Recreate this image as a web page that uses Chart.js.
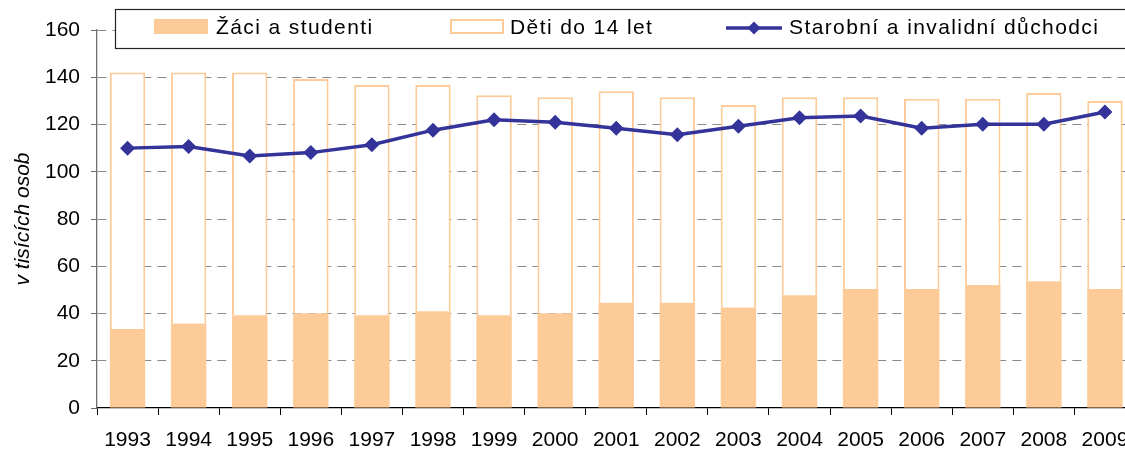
<!DOCTYPE html>
<html lang="cs">
<head>
<meta charset="utf-8">
<script src="https://cdn.jsdelivr.net/npm/chart.js@4.4.1/dist/chart.umd.min.js"></script>
<style>
  html, body { margin: 0; padding: 0; background: #fff; overflow: hidden; }
  #wrap { width: 1143px; height: 450px; position: relative; }
</style>
</head>
<body>
<div id="wrap"><canvas id="chart"></canvas></div>
<script>
const years = ["1993", "1994", "1995", "1996", "1997", "1998", "1999", "2000", "2001",
  "2002", "2003", "2004", "2005", "2006", "2007", "2008", "2009"];
const zaci = [33.4, 35.8, 39.3, 40.1, 39.3, 41.0, 39.3, 40.1, 44.5, 44.5, 42.5, 47.7, 50.4, 50.4, 52.1, 53.7, 50.4];
const deti = [108.6, 106.2, 102.7, 99.2, 97.4, 95.7, 93.1, 91.4, 89.6, 87.0, 85.8, 83.8, 81.1, 80.5, 78.8, 79.6, 79.6];
const duchodci = [110.0, 110.7, 106.7, 108.1, 111.4, 117.6, 122.0, 121.0, 118.4, 115.7, 119.3, 122.9, 123.6, 118.4, 120.1, 120.1, 125.3];
const yTicks = [0, 20, 40, 60, 80, 100, 120, 140, 160];

const labels = {
  zaci: "Žáci a studenti",
  deti: "Děti do 14 let",
  duchodci: "Starobní a invalidní důchodci",
  yTitle: "v tisících osob",
};

const palette = {
  orange: "#fdcb98",
  navy: "#333399",
  grid: "#8a8a8a",
  axis: "#707070",
  ink: "#000000",
};

const fontFamily = "'Liberation Sans', Arial, sans-serif";

// legend is drawn by hand so the framed box and spacing match the original
const boxLegend = {
  id: "boxLegend",
  afterDraw(chart) {
    const ctx = chart.ctx;
    ctx.save();
    ctx.fillStyle = "#fff";
    ctx.fillRect(115.5, 9.5, 1020, 39);
    ctx.strokeStyle = "#222";
    ctx.lineWidth = 1.2;
    ctx.strokeRect(115.5, 9.5, 1020, 39);

    ctx.fillStyle = palette.orange;
    ctx.fillRect(154, 19, 54, 15);

    ctx.strokeStyle = palette.orange;
    ctx.lineWidth = 2;
    ctx.strokeRect(451, 20, 52, 13);

    ctx.strokeStyle = palette.navy;
    ctx.lineWidth = 3.5;
    ctx.beginPath();
    ctx.moveTo(726, 28);
    ctx.lineTo(782, 28);
    ctx.stroke();
    ctx.fillStyle = palette.navy;
    ctx.beginPath();
    ctx.moveTo(754, 21.5);
    ctx.lineTo(760.5, 28);
    ctx.lineTo(754, 34.5);
    ctx.lineTo(747.5, 28);
    ctx.closePath();
    ctx.fill();

    ctx.fillStyle = palette.ink;
    ctx.font = `21px ${fontFamily}`;
    ctx.textBaseline = "alphabetic";
    ctx.letterSpacing = "1.4px";
    ctx.fillText(labels.zaci, 216, 34);
    ctx.fillText(labels.deti, 510, 34);
    ctx.fillText(labels.duchodci, 789, 34);
    ctx.restore();
  },
};

new Chart(document.getElementById("chart"), {
  type: "bar",
  data: {
    labels: years,
    datasets: [
      {
        label: labels.zaci,
        data: zaci,
        backgroundColor: palette.orange,
        borderWidth: 0,
        order: 1,
      },
      {
        label: labels.deti,
        data: deti,
        backgroundColor: "#ffffff",
        borderColor: palette.orange,
        borderWidth: 2,
        borderSkipped: "bottom",
        order: 1,
      },
      {
        type: "line",
        label: labels.duchodci,
        data: duchodci,
        stack: "line",
        borderColor: palette.navy,
        backgroundColor: palette.navy,
        borderWidth: 3.5,
        tension: 0,
        pointStyle: "rectRot",
        pointRadius: 7.5,
        pointBorderWidth: 0,
        order: 0,
      },
    ],
  },
  options: {
    responsive: true,
    maintainAspectRatio: false,
    animation: false,
    layout: { padding: { top: 30, left: 0, right: 0, bottom: 0 } },
    datasets: {
      bar: { categoryPercentage: 1, barPercentage: 0.58 },
    },
    plugins: {
      legend: { display: false },
      tooltip: { enabled: false },
    },
    scales: {
      x: {
        stacked: true,
        afterFit: (scale) => { scale.height = 42; },
        grid: {
          offset: true,
          drawOnChartArea: false,
          drawTicks: true,
          tickLength: 7,
          color: palette.ink,
        },
        border: { display: true, color: palette.ink, width: 1.3 },
        ticks: {
          color: palette.ink,
          padding: 13,
          maxRotation: 0,
          autoSkip: false,
          font: { family: fontFamily, size: 21 },
        },
      },
      y: {
        stacked: true,
        min: 0,
        max: 160,
        afterFit: (scale) => { scale.width = 97; },
        afterBuildTicks: (scale) => { scale.ticks = yTicks.map((value) => ({ value })); },
        grid: {
          color: (ctx) => (ctx.tick && ctx.tick.value === 0 ? "rgba(0,0,0,0)" : palette.grid),
          tickColor: palette.axis,
          tickLength: 6,
          lineWidth: 1,
        },
        border: { display: true, color: palette.axis, width: 1.3, dash: [9, 6] },
        ticks: {
          color: palette.ink,
          padding: 11,
          font: { family: fontFamily, size: 21 },
        },
        title: {
          display: true,
          text: labels.yTitle,
          color: palette.ink,
          padding: { top: 11, bottom: 0 },
          font: { family: fontFamily, size: 21, style: "italic" },
        },
      },
    },
  },
  plugins: [boxLegend],
});
</script>
</body>
</html>
